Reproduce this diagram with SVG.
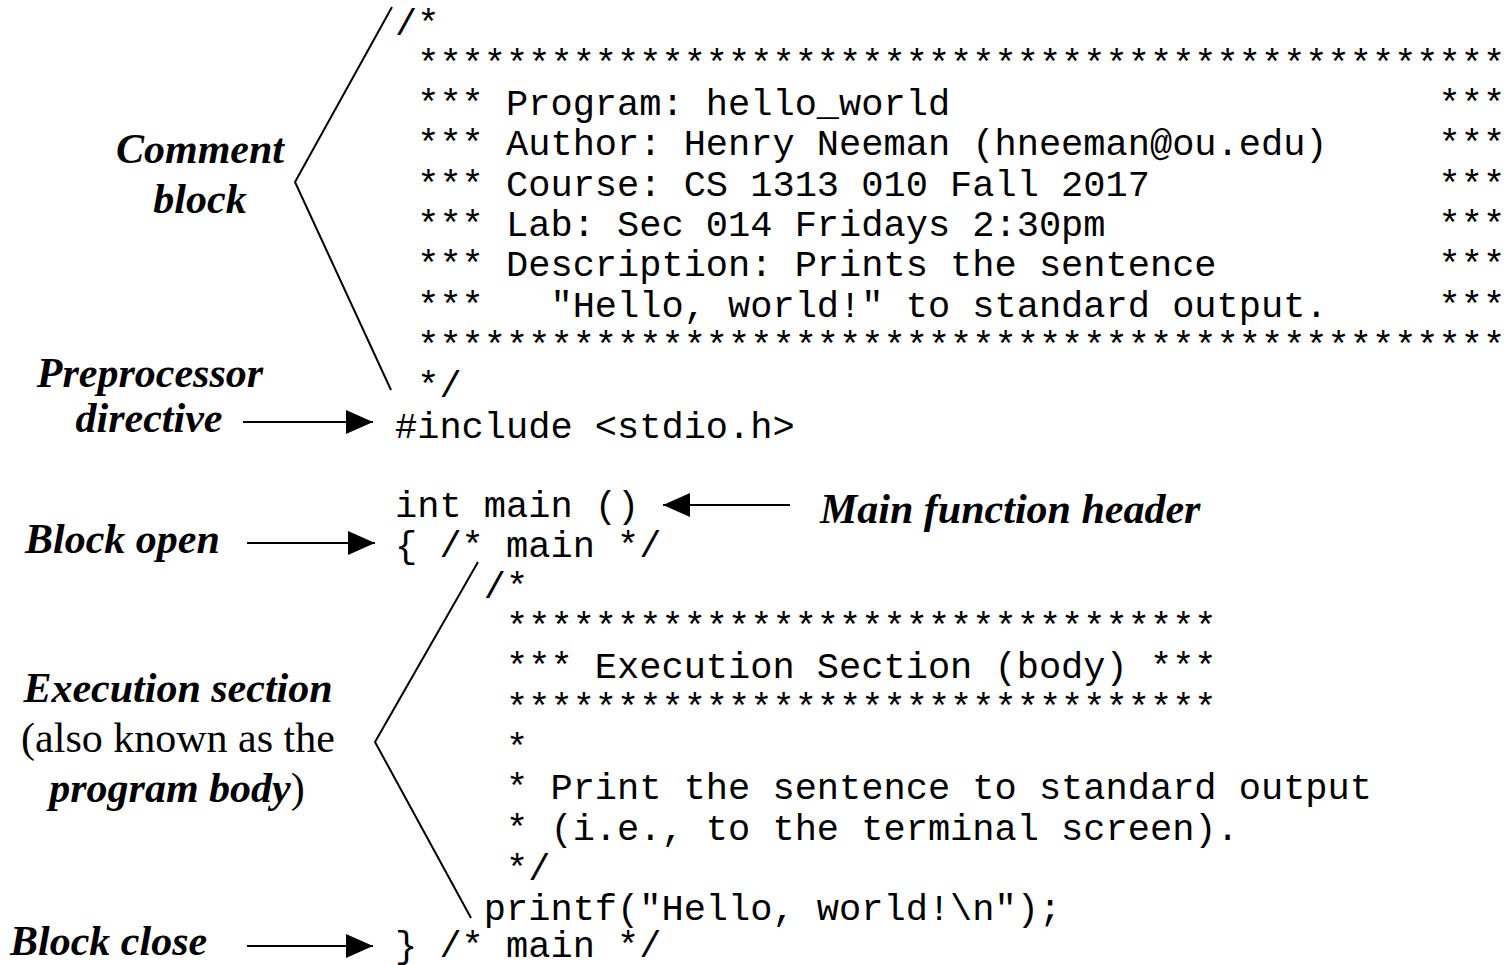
<svg xmlns="http://www.w3.org/2000/svg" width="1511" height="965" viewBox="0 0 1511 965">
<style>
.code{font-family:"Liberation Mono","Courier New",monospace;font-size:37px;fill:#000;white-space:pre}
.lbl{font-family:"Liberation Serif","Times New Roman",serif;font-size:42px;font-weight:bold;font-style:italic;fill:#000}
.reg{font-weight:normal;font-style:normal}
.bi{font-weight:bold;font-style:italic}
.conn{stroke:#000;stroke-width:2;fill:none}
</style>
<defs>
<marker id="ah" markerUnits="userSpaceOnUse" markerWidth="28" markerHeight="26" refX="27" refY="12" orient="auto">
<path d="M0,0 L27,12 L0,24 Z" fill="#000"/>
</marker>
</defs>
<rect width="1511" height="965" fill="#fff"/>
<g id="code">
<text class="code" x="395" y="34.5">/*</text>
<text class="code" x="395" y="74.8"> *************************************************</text>
<text class="code" x="395" y="115.1"> *** Program: hello_world                      ***</text>
<text class="code" x="395" y="155.4"> *** Author: Henry Neeman (hneeman@ou.edu)     ***</text>
<text class="code" x="395" y="195.7"> *** Course: CS 1313 010 Fall 2017             ***</text>
<text class="code" x="395" y="236">&#160;*** Lab: Sec 014 Fridays 2:30pm               ***</text>
<text class="code" x="395" y="276.3"> *** Description: Prints the sentence          ***</text>
<text class="code" x="395" y="316.6"> ***   "Hello, world!" to standard output.     ***</text>
<text class="code" x="395" y="356.9"> *************************************************</text>
<text class="code" x="395" y="397.2"> */</text>
<text class="code" x="395" y="437.5">#include &lt;stdio.h&gt;</text>
<text class="code" x="395" y="517.1">int main ()</text>
<text class="code" x="395" y="557.4">{ /* main */</text>
<text class="code" x="395" y="597.7">    /*</text>
<text class="code" x="395" y="638">     ********************************</text>
<text class="code" x="395" y="678.3">     *** Execution Section (body) ***</text>
<text class="code" x="395" y="718.6">     ********************************</text>
<text class="code" x="395" y="758.9">     *</text>
<text class="code" x="395" y="799.2">     * Print the sentence to standard output</text>
<text class="code" x="395" y="839.5">     * (i.e., to the terminal screen).</text>
<text class="code" x="395" y="879.8">     */</text>
<text class="code" x="395" y="920.1">    printf("Hello, world!\n");</text>
<text class="code" x="395" y="957">} /* main */</text>
</g>
<g id="comment-block">
<text class="lbl" x="200" y="163" text-anchor="middle">Comment</text>
<text class="lbl" x="200" y="213" text-anchor="middle">block</text>
</g>
<g id="preprocessor-directive">
<text class="lbl" x="150" y="387" text-anchor="middle">Preprocessor</text>
<text class="lbl" x="149" y="432" text-anchor="middle">directive</text>
</g>
<g id="main-function-header">
<text class="lbl" x="820" y="523">Main function header</text>
</g>
<g id="block-open">
<text class="lbl" x="25" y="553">Block open</text>
</g>
<g id="execution-section">
<text class="lbl" x="178" y="702" text-anchor="middle">Execution section</text>
<text class="lbl reg" x="178" y="752" text-anchor="middle">(also known as the</text>
<text class="lbl" x="177" y="802" text-anchor="middle"><tspan class="bi">program body</tspan><tspan class="reg">)</tspan></text>
</g>
<g id="block-close">
<text class="lbl" x="10" y="955">Block close</text>
</g>
<g id="connectors">
<polyline class="conn" points="392,7 295,182 391,390"/>
<polyline class="conn" points="478,562 375,742 471,918"/>
<line class="conn" x1="243" y1="422" x2="373" y2="422" marker-end="url(#ah)"/>
<line class="conn" x1="247" y1="543" x2="375" y2="543" marker-end="url(#ah)"/>
<line class="conn" x1="247" y1="946" x2="373" y2="946" marker-end="url(#ah)"/>
<line class="conn" x1="790" y1="505" x2="663" y2="505" marker-end="url(#ah)"/>
</g>
</svg>
